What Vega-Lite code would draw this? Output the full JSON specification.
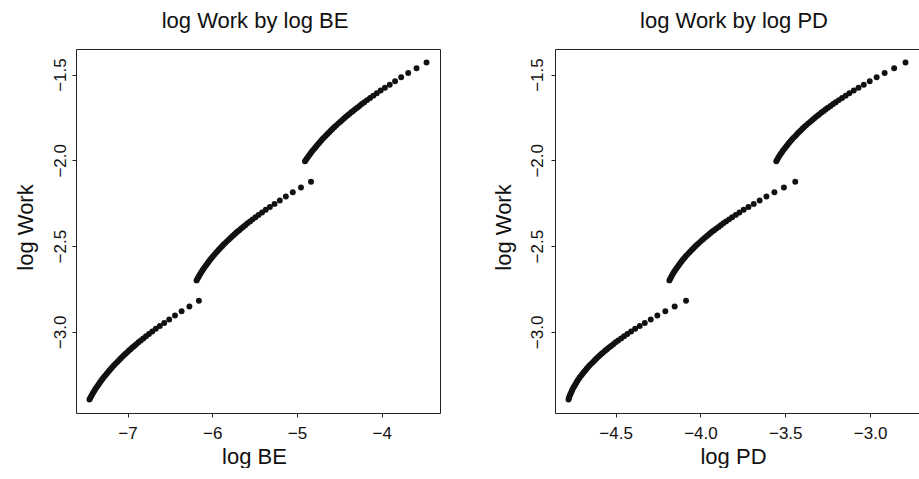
{
  "$schema": "https://vega.github.io/schema/vega-lite/v6.json",
  "padding": {"left": 13, "top": 9, "right": 0, "bottom": 0},
  "background": "white",
  "bounds": "flush",
  "spacing": 115,
  "datasets": {
    "pts": [
      {"w": -1.430, "be": -3.472, "pd": -2.791},
      {"w": -1.463, "be": -3.590, "pd": -2.858},
      {"w": -1.491, "be": -3.688, "pd": -2.914},
      {"w": -1.516, "be": -3.771, "pd": -2.961},
      {"w": -1.539, "be": -3.843, "pd": -3.002},
      {"w": -1.559, "be": -3.906, "pd": -3.037},
      {"w": -1.577, "be": -3.963, "pd": -3.068},
      {"w": -1.593, "be": -4.013, "pd": -3.096},
      {"w": -1.609, "be": -4.059, "pd": -3.122},
      {"w": -1.623, "be": -4.100, "pd": -3.144},
      {"w": -1.637, "be": -4.138, "pd": -3.165},
      {"w": -1.649, "be": -4.173, "pd": -3.184},
      {"w": -1.661, "be": -4.206, "pd": -3.202},
      {"w": -1.672, "be": -4.236, "pd": -3.218},
      {"w": -1.683, "be": -4.264, "pd": -3.233},
      {"w": -1.693, "be": -4.290, "pd": -3.248},
      {"w": -1.702, "be": -4.315, "pd": -3.261},
      {"w": -1.712, "be": -4.338, "pd": -3.273},
      {"w": -1.720, "be": -4.360, "pd": -3.285},
      {"w": -1.729, "be": -4.381, "pd": -3.296},
      {"w": -1.737, "be": -4.401, "pd": -3.306},
      {"w": -1.746, "be": -4.423, "pd": -3.318},
      {"w": -1.756, "be": -4.446, "pd": -3.330},
      {"w": -1.766, "be": -4.469, "pd": -3.342},
      {"w": -1.776, "be": -4.492, "pd": -3.354},
      {"w": -1.786, "be": -4.515, "pd": -3.366},
      {"w": -1.796, "be": -4.537, "pd": -3.377},
      {"w": -1.806, "be": -4.558, "pd": -3.388},
      {"w": -1.816, "be": -4.580, "pd": -3.399},
      {"w": -1.826, "be": -4.600, "pd": -3.409},
      {"w": -1.836, "be": -4.621, "pd": -3.420},
      {"w": -1.846, "be": -4.641, "pd": -3.430},
      {"w": -1.856, "be": -4.661, "pd": -3.439},
      {"w": -1.866, "be": -4.680, "pd": -3.449},
      {"w": -1.876, "be": -4.699, "pd": -3.458},
      {"w": -1.886, "be": -4.717, "pd": -3.467},
      {"w": -1.896, "be": -4.735, "pd": -3.476},
      {"w": -1.906, "be": -4.753, "pd": -3.484},
      {"w": -1.916, "be": -4.770, "pd": -3.492},
      {"w": -1.926, "be": -4.787, "pd": -3.500},
      {"w": -1.936, "be": -4.803, "pd": -3.508},
      {"w": -1.946, "be": -4.819, "pd": -3.515},
      {"w": -1.956, "be": -4.835, "pd": -3.522},
      {"w": -1.966, "be": -4.850, "pd": -3.529},
      {"w": -1.976, "be": -4.865, "pd": -3.536},
      {"w": -1.986, "be": -4.880, "pd": -3.542},
      {"w": -1.996, "be": -4.894, "pd": -3.548},
      {"w": -2.005, "be": -4.906, "pd": -3.553},
      {"w": -2.125, "be": -4.835, "pd": -3.441},
      {"w": -2.158, "be": -4.953, "pd": -3.508},
      {"w": -2.186, "be": -5.050, "pd": -3.564},
      {"w": -2.211, "be": -5.132, "pd": -3.611},
      {"w": -2.234, "be": -5.203, "pd": -3.651},
      {"w": -2.254, "be": -5.265, "pd": -3.686},
      {"w": -2.272, "be": -5.320, "pd": -3.717},
      {"w": -2.288, "be": -5.369, "pd": -3.745},
      {"w": -2.304, "be": -5.413, "pd": -3.770},
      {"w": -2.318, "be": -5.454, "pd": -3.792},
      {"w": -2.332, "be": -5.490, "pd": -3.813},
      {"w": -2.344, "be": -5.524, "pd": -3.831},
      {"w": -2.356, "be": -5.555, "pd": -3.849},
      {"w": -2.367, "be": -5.584, "pd": -3.865},
      {"w": -2.378, "be": -5.611, "pd": -3.880},
      {"w": -2.388, "be": -5.636, "pd": -3.893},
      {"w": -2.397, "be": -5.659, "pd": -3.906},
      {"w": -2.407, "be": -5.681, "pd": -3.919},
      {"w": -2.415, "be": -5.702, "pd": -3.930},
      {"w": -2.424, "be": -5.721, "pd": -3.941},
      {"w": -2.432, "be": -5.740, "pd": -3.951},
      {"w": -2.441, "be": -5.760, "pd": -3.962},
      {"w": -2.451, "be": -5.782, "pd": -3.974},
      {"w": -2.461, "be": -5.804, "pd": -3.986},
      {"w": -2.471, "be": -5.825, "pd": -3.997},
      {"w": -2.481, "be": -5.845, "pd": -4.008},
      {"w": -2.491, "be": -5.866, "pd": -4.019},
      {"w": -2.501, "be": -5.885, "pd": -4.030},
      {"w": -2.511, "be": -5.905, "pd": -4.040},
      {"w": -2.521, "be": -5.924, "pd": -4.050},
      {"w": -2.531, "be": -5.942, "pd": -4.060},
      {"w": -2.541, "be": -5.960, "pd": -4.069},
      {"w": -2.551, "be": -5.977, "pd": -4.079},
      {"w": -2.561, "be": -5.994, "pd": -4.088},
      {"w": -2.571, "be": -6.011, "pd": -4.096},
      {"w": -2.581, "be": -6.027, "pd": -4.105},
      {"w": -2.591, "be": -6.043, "pd": -4.113},
      {"w": -2.601, "be": -6.058, "pd": -4.121},
      {"w": -2.611, "be": -6.073, "pd": -4.128},
      {"w": -2.621, "be": -6.087, "pd": -4.135},
      {"w": -2.631, "be": -6.101, "pd": -4.142},
      {"w": -2.641, "be": -6.115, "pd": -4.149},
      {"w": -2.651, "be": -6.128, "pd": -4.156},
      {"w": -2.661, "be": -6.140, "pd": -4.162},
      {"w": -2.671, "be": -6.153, "pd": -4.168},
      {"w": -2.681, "be": -6.164, "pd": -4.173},
      {"w": -2.691, "be": -6.176, "pd": -4.179},
      {"w": -2.700, "be": -6.185, "pd": -4.183},
      {"w": -2.819, "be": -6.158, "pd": -4.085},
      {"w": -2.852, "be": -6.270, "pd": -4.152},
      {"w": -2.880, "be": -6.362, "pd": -4.207},
      {"w": -2.905, "be": -6.440, "pd": -4.254},
      {"w": -2.928, "be": -6.508, "pd": -4.293},
      {"w": -2.948, "be": -6.567, "pd": -4.328},
      {"w": -2.966, "be": -6.619, "pd": -4.358},
      {"w": -2.982, "be": -6.666, "pd": -4.385},
      {"w": -2.998, "be": -6.708, "pd": -4.409},
      {"w": -3.012, "be": -6.747, "pd": -4.431},
      {"w": -3.026, "be": -6.782, "pd": -4.450},
      {"w": -3.038, "be": -6.814, "pd": -4.468},
      {"w": -3.050, "be": -6.843, "pd": -4.485},
      {"w": -3.061, "be": -6.871, "pd": -4.500},
      {"w": -3.072, "be": -6.897, "pd": -4.514},
      {"w": -3.082, "be": -6.920, "pd": -4.527},
      {"w": -3.091, "be": -6.943, "pd": -4.539},
      {"w": -3.101, "be": -6.964, "pd": -4.551},
      {"w": -3.109, "be": -6.984, "pd": -4.561},
      {"w": -3.118, "be": -7.002, "pd": -4.571},
      {"w": -3.126, "be": -7.020, "pd": -4.581},
      {"w": -3.135, "be": -7.040, "pd": -4.591},
      {"w": -3.145, "be": -7.061, "pd": -4.602},
      {"w": -3.155, "be": -7.081, "pd": -4.613},
      {"w": -3.165, "be": -7.101, "pd": -4.623},
      {"w": -3.175, "be": -7.121, "pd": -4.633},
      {"w": -3.185, "be": -7.141, "pd": -4.643},
      {"w": -3.195, "be": -7.159, "pd": -4.653},
      {"w": -3.205, "be": -7.178, "pd": -4.662},
      {"w": -3.215, "be": -7.196, "pd": -4.671},
      {"w": -3.225, "be": -7.214, "pd": -4.679},
      {"w": -3.235, "be": -7.231, "pd": -4.688},
      {"w": -3.245, "be": -7.248, "pd": -4.696},
      {"w": -3.255, "be": -7.264, "pd": -4.703},
      {"w": -3.265, "be": -7.280, "pd": -4.711},
      {"w": -3.275, "be": -7.296, "pd": -4.718},
      {"w": -3.285, "be": -7.311, "pd": -4.725},
      {"w": -3.295, "be": -7.326, "pd": -4.731},
      {"w": -3.305, "be": -7.340, "pd": -4.737},
      {"w": -3.315, "be": -7.354, "pd": -4.743},
      {"w": -3.325, "be": -7.368, "pd": -4.749},
      {"w": -3.335, "be": -7.381, "pd": -4.754},
      {"w": -3.345, "be": -7.393, "pd": -4.758},
      {"w": -3.355, "be": -7.406, "pd": -4.763},
      {"w": -3.365, "be": -7.417, "pd": -4.768},
      {"w": -3.375, "be": -7.429, "pd": -4.772},
      {"w": -3.385, "be": -7.440, "pd": -4.775},
      {"w": -3.394, "be": -7.449, "pd": -4.778}
    ]
  },
  "hconcat": [
    {
      "width": 364,
      "height": 364,
      "data": {"name": "pts"},
      "title": {"text": "log Work by log BE", "fontSize": 22, "fontWeight": "normal", "font": "Liberation Sans", "baseline": "alphabetic", "offset": -1, "dx": -3, "color": "#111111", "anchor": "middle"},
      "mark": {"type": "circle", "size": 35, "color": "#111111", "opacity": 1},
      "encoding": {
        "x": {"field": "be", "type": "quantitative", "scale": {"domain": [-7.608, -3.313], "nice": false, "zero": false},
              "axis": {"title": "log BE", "values": [-7, -6, -5, -4], "format": "d", "labelPadding": 21.5, "labelBaseline": "alphabetic", "titleBaseline": "alphabetic", "titleY": 50, "titleX": 178}},
        "y": {"field": "w", "type": "quantitative", "scale": {"domain": [-3.473, -1.351], "nice": false, "zero": false},
              "axis": {"title": "log Work", "values": [-3, -2.5, -2, -1.5], "format": ".1f", "labelAngle": -90, "labelAlign": "center", "labelBaseline": "alphabetic", "labelPadding": 7, "titleX": -44, "titleY": 178, "titleAngle": -90, "titleAlign": "center", "titleBaseline": "alphabetic"}}
      }
    },
    {
      "width": 364,
      "height": 364,
      "data": {"name": "pts"},
      "title": {"text": "log Work by log PD", "fontSize": 22, "fontWeight": "normal", "font": "Liberation Sans", "baseline": "alphabetic", "offset": -1, "dx": -3, "color": "#111111", "anchor": "middle"},
      "mark": {"type": "circle", "size": 35, "color": "#111111", "opacity": 1},
      "encoding": {
        "x": {"field": "pd", "type": "quantitative", "scale": {"domain": [-4.8575, -2.7115], "nice": false, "zero": false},
              "axis": {"title": "log PD", "values": [-4.5, -4, -3.5, -3], "format": ".1f", "labelPadding": 21.5, "labelBaseline": "alphabetic", "titleBaseline": "alphabetic", "titleY": 50, "titleX": 178}},
        "y": {"field": "w", "type": "quantitative", "scale": {"domain": [-3.473, -1.351], "nice": false, "zero": false},
              "axis": {"title": "log Work", "values": [-3, -2.5, -2, -1.5], "format": ".1f", "labelAngle": -90, "labelAlign": "center", "labelBaseline": "alphabetic", "labelPadding": 9, "titleX": -45, "titleY": 178, "titleAngle": -90, "titleAlign": "center", "titleBaseline": "alphabetic"}}
      }
    }
  ],
  "config": {
    "font": "Liberation Sans",
    "view": {"stroke": "#222222", "strokeWidth": 1},
    "axis": {"domain": false, "grid": false, "ticks": true, "tickSize": 4, "tickColor": "#222222", "labelFontSize": 17, "labelColor": "#111111", "labelFont": "Liberation Sans", "titleFontSize": 22, "titleFontWeight": "normal", "titleColor": "#111111", "titleFont": "Liberation Sans"}
  }
}
